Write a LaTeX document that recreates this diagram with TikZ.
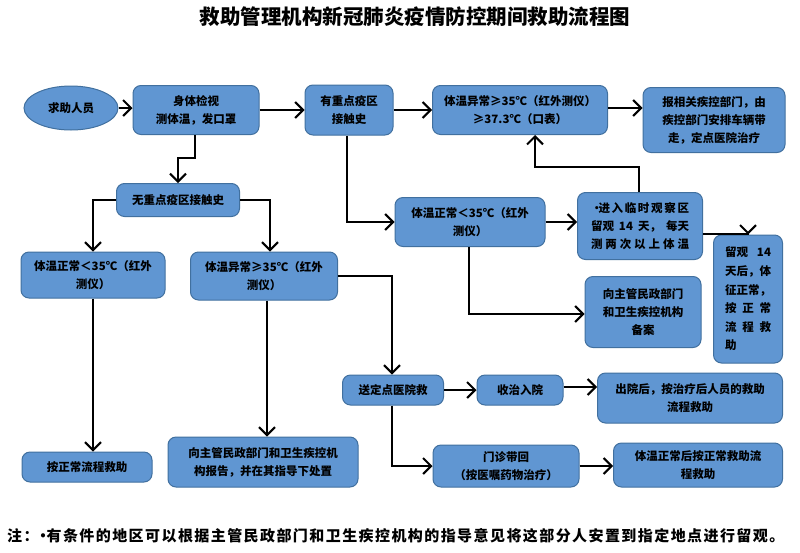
\documentclass[tikz,border=0pt]{standalone}
\usepackage{fontspec}
\setmainfont{Noto Sans CJK SC}
\usetikzlibrary{arrows.meta,shapes.geometric,calc}
\definecolor{boxfill}{HTML}{6096D2}
\definecolor{boxline}{HTML}{41709F}
\newcommand{\jline}[2]{\hbox to #1{#2}}
\begin{document}
\begin{tikzpicture}[x=1pt,y=-1pt,
  box/.style={draw=boxline, line width=1pt, fill=boxfill, rounded corners=8pt,
    align=center, inner sep=2pt, font=\fontsize{11.5}{18}\selectfont\bfseries},
  oval/.style={ellipse, draw=boxline, line width=1pt, fill=boxfill, inner sep=0pt,
    font=\fontsize{11.5}{18}\selectfont\bfseries},
  arr/.style={draw=black, line width=1.8pt, -{Straight Barb[length=8pt,width=16pt,line width=2pt]}}
]
\useasboundingbox (0,0) rectangle (800,552);
\fill[white] (0,0) rectangle (800,552);

\node[font=\fontsize{20.5}{24}\selectfont\bfseries] (title) at (415,17) {救助管理机构新冠肺炎疫情防控期间救助流程图};

\node[oval, minimum width=94pt, minimum height=44pt] (ell) at (71,108) {求助人员};
\node[box, minimum width=126pt, minimum height=49pt] (body) at (196,110) {身体检视\\测体温，发口罩};
\node[box, minimum width=88pt, minimum height=50pt] (yes) at (349,110) {有重点疫区\\接触史};
\node[box, minimum width=175pt, minimum height=49pt] (abn1) at (520,110) {体温异常≥35℃（红外测仪）\\≥37.3℃（口表）};
\node[box, minimum width=142pt, minimum height=65pt] (report) at (714,120) {报相关疾控部门，由\\疾控部门安排车辆带\\走，定点医院治疗};
\node[box, minimum width=150pt, minimum height=49pt] (norm1) at (470,222) {体温正常＜35℃（红外\\测仪）};
\node[box, minimum width=125pt, minimum height=67pt, align=left] (obs) at (640,226)
  {\jline{98pt}{•\kern-4pt 进\hfil 入\hfil 临\hfil 时\hfil 观\hfil 察\hfil 区}\\
   \jline{98pt}{留观\hfil 14\hfil 天，\hfil 每天}\\
   \jline{98pt}{测\hfil 两\hfil 次\hfil 以\hfil 上\hfil 体\hfil 温}};
\node[box, minimum width=69pt, minimum height=128pt, align=left, font=\fontsize{11.5}{18.6}\selectfont\bfseries] (after) at (748,299)
  {\jline{46pt}{留观\hfil 14}\\
   \jline{46pt}{天后，体}\\
   \jline{46pt}{征正常，}\\
   \jline{46pt}{按\hfil 正\hfil 常}\\
   \jline{46pt}{流\hfil 程\hfil 救}\\
   \jline{46pt}{助\hfil}};
\node[box, minimum width=116pt, minimum height=71pt] (file) at (643,312) {向主管民政部门\\和卫生疾控机构\\备案};
\node[box, minimum width=123pt, minimum height=33pt] (no) at (178,200) {无重点疫区接触史};
\node[box, minimum width=144pt, minimum height=46pt] (norm2) at (93,275) {体温正常＜35℃（红外\\测仪）};
\node[box, minimum width=147pt, minimum height=48pt] (abn2) at (264,276) {体温异常≥35℃（红外\\测仪）};
\node[box, minimum width=130pt, minimum height=30pt] (normal) at (87,467) {按正常流程救助};
\node[box, minimum width=190pt, minimum height=50pt] (report2) at (263,462) {向主管民政部门和卫生疾控机\\构报告，并在其指导下处置};
\node[box, minimum width=101pt, minimum height=30pt] (hosp) at (393,390) {送定点医院救};
\node[box, minimum width=86pt, minimum height=30pt] (admit) at (520,390) {收治入院};
\node[box, minimum width=185pt, minimum height=50pt] (disch) at (690,398) {出院后，按治疗后人员的救助\\流程救助};
\node[box, minimum width=146pt, minimum height=42pt] (clinic) at (506,466) {门诊带回\\（按医嘱药物治疗）};
\node[box, minimum width=169pt, minimum height=44pt] (back) at (698,465) {体温正常后按正常救助流\\程救助};

\node[font=\fontsize{15}{18}\selectfont\bfseries\addfontfeatures{LetterSpace=9.5}, anchor=west, inner sep=0pt] (note) at (7,536)
  {注：\kern-3pt•\kern-4pt 有条件的地区可以根据主管民政部门和卫生疾控机构的指导意见将这部分人安置到指定地点进行留观。};

% connectors
\draw[arr] (ell.east) -- (ell.east -| body.west);
\draw[arr] (body.east) -- (yes.west);
\draw[arr] (yes.east) -- (abn1.west);
\draw[arr] ([yshift=2pt]abn1.east) -- ([yshift=2pt]abn1.east -| report.west);
\draw[arr] ([xshift=-2pt]yes.south) |- (norm1.west);
\draw[arr] (norm1.east) -- (norm1.east -| obs.west);
\draw[arr] ([xshift=-1pt]obs.north) -- ++(0,-25) -| ([xshift=15pt]abn1.south);
\draw[arr] ([yshift=-8pt]obs.east) -| (after.north);
\draw[arr] ([xshift=-1pt]norm1.south) |- ([yshift=-2pt]file.west);
\draw[arr] ([xshift=-1pt]body.south) -- ++(0,23) -| (no.north);
\draw[arr] (no.west) -| (norm2.north);
\draw[arr] (no.east) -| ([xshift=6pt]abn2.north);
\draw[arr] (norm2.south) -- (norm2.south |- normal.north);
\draw[arr] ([xshift=3pt]abn2.south) -- ([xshift=3pt]abn2.south |- report2.north);
\draw[arr] (abn2.east) -| ([xshift=-1pt]hosp.north);
\draw[arr] (hosp.east) -- (admit.west);
\draw[arr] ([yshift=3pt]admit.east) -- ([yshift=3pt]admit.east -| disch.west);
\draw[arr] ([xshift=-1pt]hosp.south) |- (clinic.west);
\draw[arr] (clinic.east) -- (clinic.east -| back.west);
\end{tikzpicture}
\end{document}
